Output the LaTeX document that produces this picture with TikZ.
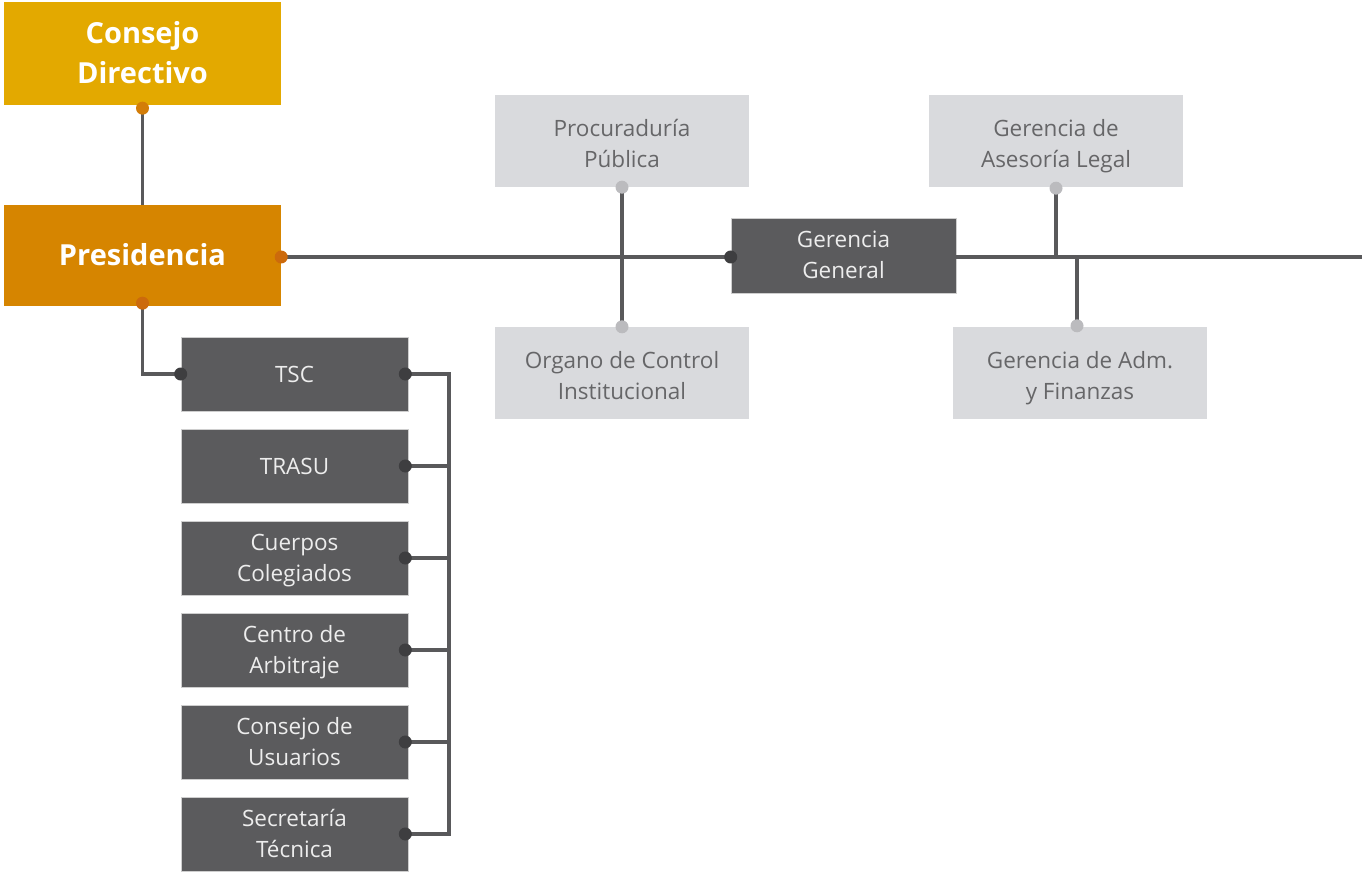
\documentclass[tikz,border=0pt]{standalone}
\usepackage{fontspec}
\setmainfont{Open Sans}
\definecolor{gold}{HTML}{E3A900}
\definecolor{orangebox}{HTML}{D68500}
\definecolor{orangedot}{HTML}{CC6A0C}
\definecolor{darkbox}{HTML}{5B5B5D}
\definecolor{darkdot}{HTML}{3E3E40}
\definecolor{lightbox}{HTML}{D9DADD}
\definecolor{lightdot}{HTML}{BBBBBE}
\definecolor{lighttext}{HTML}{666668}
\definecolor{linecol}{HTML}{59595B}
\newcommand{\st}{\rule[-6.5pt]{0pt}{29pt}}
\newcommand{\stt}{\rule[-6.5pt]{0pt}{35pt}}
\newcommand{\stb}{\rule[-8pt]{0pt}{37pt}}
\begin{document}
\begin{tikzpicture}[x=1pt,y=-1pt,
  base/.style={rectangle,inner sep=0pt,align=center,font=\fontsize{22.5}{31}\selectfont},
  topbox/.style={base,text=white,font=\fontsize{29}{40}\selectfont\bfseries,minimum width=277pt},
  darkb/.style={base,fill=darkbox,text=white!93!black,draw=white!70!darkbox,line width=0.6pt},
  lightb/.style={base,fill=lightbox,text=lighttext,minimum width=254pt,minimum height=92pt},
  conn/.style={draw=linecol,line width=3.6pt},
  dot/.style={circle,inner sep=0pt,minimum size=13pt}
]
\useasboundingbox (0,0) rectangle (1362,874);
% top boxes
\node[topbox,fill=gold,minimum height=103pt] (cd) at (142.5,53.5) {Consejo\stb\\Directivo\stb};
\node[topbox,fill=orangebox,minimum height=101pt] (pres) at (142.5,255.5) {Presidencia\stb};
% left column
\foreach \n/\y/\t in {tsc/374/TSC\st, trasu/466/TRASU\st, cue/558/{Cuerpos\st\\Colegiados\st}, cen/650/{Centro de\st\\Arbitraje\st}, cus/742/{Consejo de\st\\Usuarios\st}, sec/834/{Secretaría\st\\Técnica\st}}
  \node[darkb,minimum width=227pt,minimum height=74pt] (\n) at (294.5,\y) {\t};
% right part
\node[lightb] (proc) at (622,141) {Procuraduría\stt\\Pública\st};
\node[lightb] (org) at (622,373) {Organo de Control\stt\\Institucional\st};
\node[darkb,minimum width=225pt,minimum height=75pt] (gg) at (843.5,255.5) {Gerencia\st\\General\st};
\node[lightb] (ases) at (1056,141) {Gerencia de\stt\\Asesoría Legal\st};
\node[lightb] (adm) at (1080,373) {Gerencia de Adm.\stt\\y Finanzas\st};
\coordinate (bus) at (449,0);
\coordinate (rend) at (1362,257);
\coordinate (admtop) at ([xshift=-3pt]adm.north);
% connectors
\draw[conn] (cd.south) -- (pres.north);
\draw[conn] ([yshift=-1.5pt]pres.east) -- ([yshift=-1.5pt]gg.west);
\draw[conn] ([yshift=-1.5pt]gg.east) -- (rend);
\draw[conn] (proc.south) -- (org.north);
\draw[conn] (ases.south) -- (ases.south |- rend);
\draw[conn] (admtop) -- (admtop |- rend);
\draw[conn] (pres.south) |- (tsc.west);
\draw[conn] ([xshift=-3pt]tsc.east) -- (tsc.east -| bus) -- (sec.east -| bus) -- ([xshift=-3pt]sec.east);
\foreach \n in {trasu,cue,cen,cus}
  \draw[conn] ([xshift=-3pt]\n.east) -- (\n.east -| bus);
% dots
\node[dot,fill=orangedot!70!gold] at ([yshift=-3pt]cd.south) {};
\node[dot,fill=orangedot] at ([yshift=-1.5pt]pres.east) {};
\node[dot,fill=orangedot] at ([yshift=3pt]pres.south) {};
\node[dot,fill=darkdot] at (tsc.west) {};
\foreach \n in {tsc,trasu,cue,cen,cus,sec}
  \node[dot,fill=darkdot] at ([xshift=-3pt]\n.east) {};
\node[dot,fill=darkdot] at ([yshift=-1.5pt]gg.west) {};
\node[dot,fill=lightdot] at (proc.south) {};
\node[dot,fill=lightdot] at (org.north) {};
\node[dot,fill=lightdot] at ([yshift=-1pt]ases.south) {};
\node[dot,fill=lightdot] at ([yshift=1pt]admtop) {};
\end{tikzpicture}
\end{document}
